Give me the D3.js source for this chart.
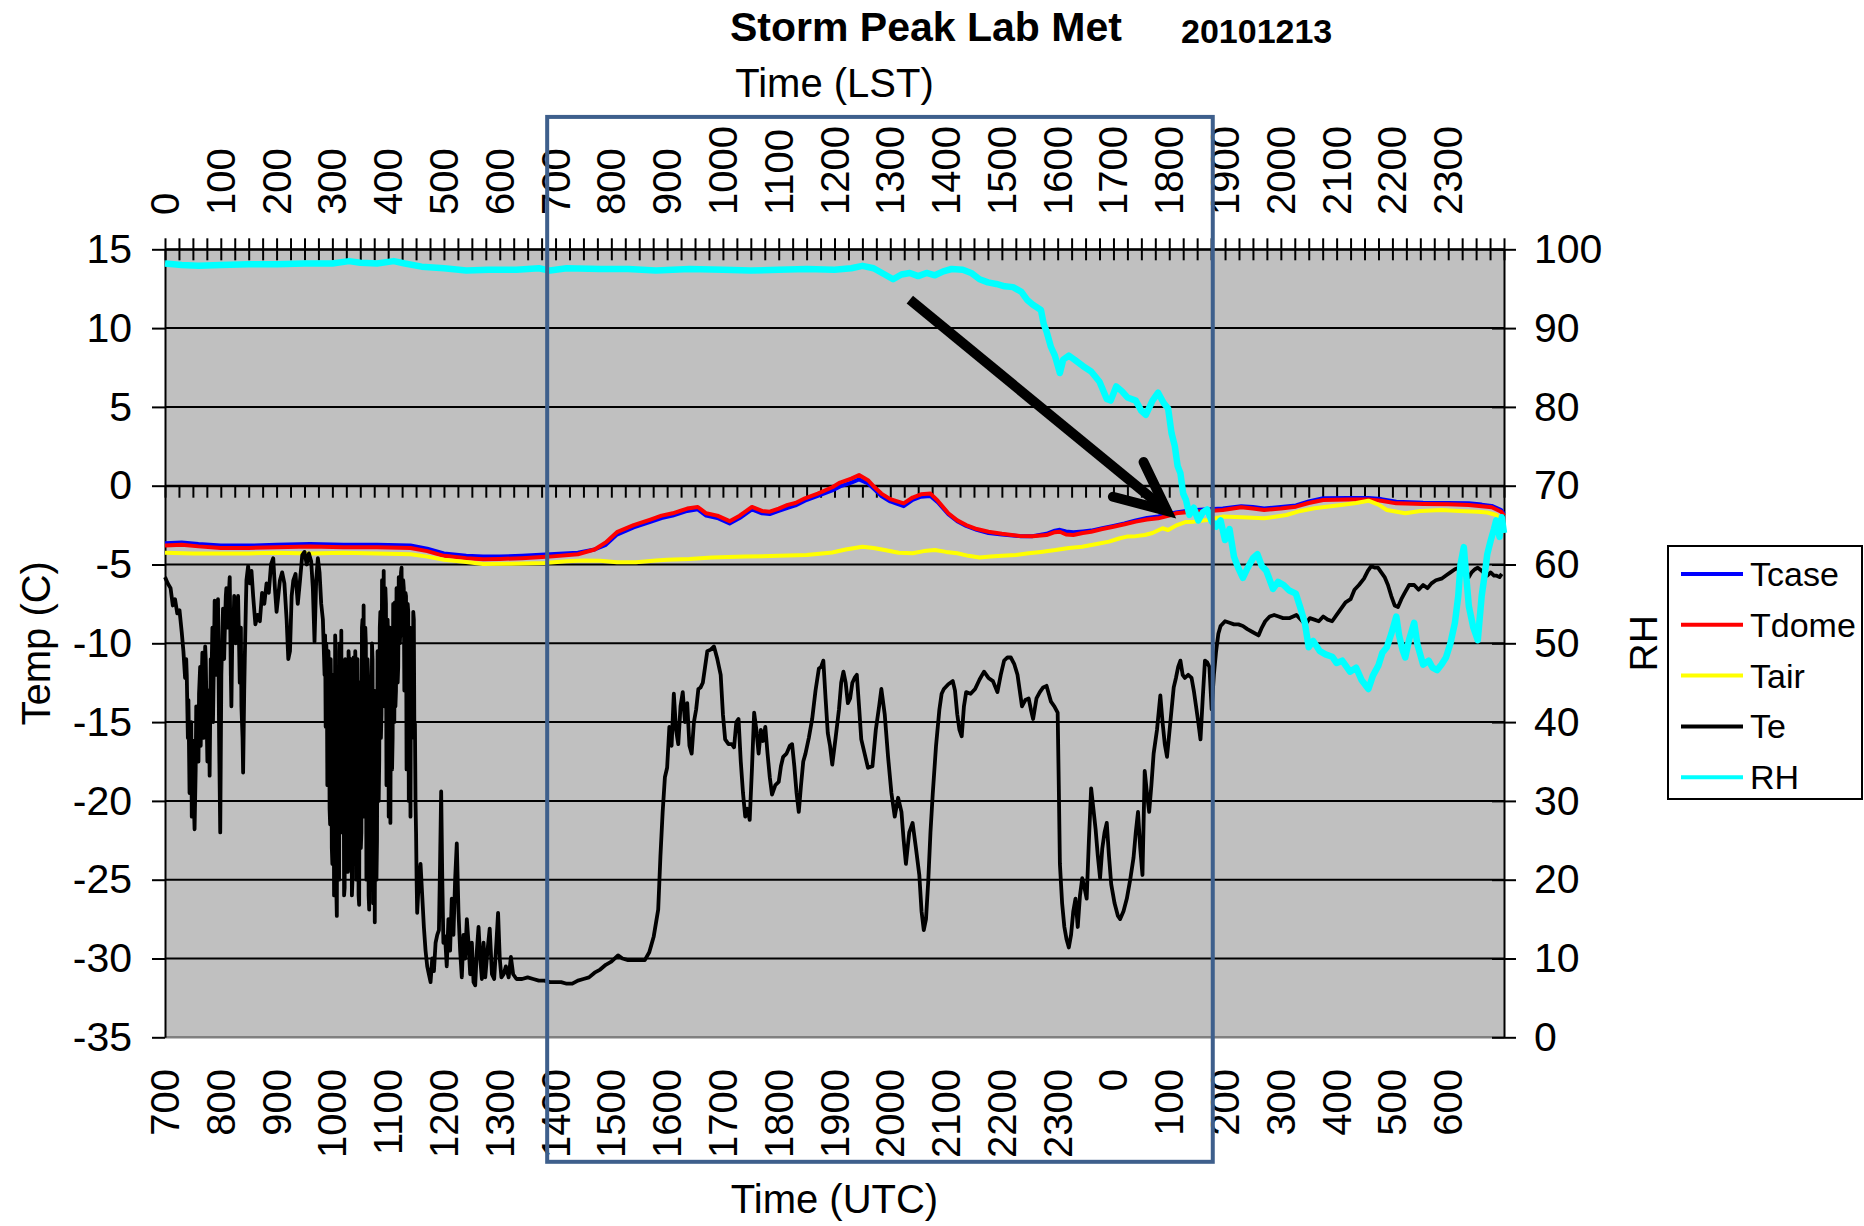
<!DOCTYPE html>
<html>
<head>
<meta charset="utf-8">
<script src="https://cdn.jsdelivr.net/npm/d3@7"></script>
<style>
  body { margin: 0; background: #fff; }
  text { font-family: "Liberation Sans", Arial, sans-serif; fill: #000; }
</style>
</head>
<body>
<svg id="chart" width="1864" height="1226"></svg>
<script>
// DATA (hours LST, value)

const lstLabels = ["0","100","200","300","400","500","600","700","800","900","1000","1100",
  "1200","1300","1400","1500","1600","1700","1800","1900","2000","2100","2200","2300"];
const utcLabels = ["700","800","900","1000","1100","1200","1300","1400","1500","1600","1700","1800",
  "1900","2000","2100","2200","2300","0","100","200","300","400","500","600"];
const tempTicks = [-35,-30,-25,-20,-15,-10,-5,0,5,10,15];
const rhTicks = [0,10,20,30,40,50,60,70,80,90,100];

const seriesNames = ["Tcase","Tdome","Tair","Te","RH"];
const seriesColors = ["#0000ff","#ff0000","#ffff00","#000000","#00ffff"];

const tcase = [[0,-3.65],[0.3,-3.6],[0.6,-3.7],[1.0,-3.8],[1.5,-3.8],[2.0,-3.75],[2.6,-3.7],[3.2,-3.75],[3.8,-3.75],[4.4,-3.8],
  [4.7,-4.0],[5.0,-4.3],[5.4,-4.45],[5.7,-4.5],[6.0,-4.5],[6.4,-4.45],[6.9,-4.35],[7.4,-4.25],[7.7,-4.05],[7.9,-3.75],
  [8.1,-3.1],[8.4,-2.65],[8.7,-2.3],[8.9,-2.05],[9.1,-1.9],[9.36,-1.6],[9.55,-1.5],[9.7,-1.9],[9.9,-2.05],[10.12,-2.4],
  [10.3,-2.05],[10.52,-1.5],[10.7,-1.75],[10.84,-1.8],[11.0,-1.6],[11.16,-1.4],[11.3,-1.25],[11.47,-0.95],[11.7,-0.65],
  [11.96,-0.3],[12.1,-0.05],[12.3,0.2],[12.44,0.4],[12.6,0.15],[12.72,-0.25],[12.84,-0.65],[13.0,-1.0],[13.24,-1.3],
  [13.4,-0.9],[13.55,-0.7],[13.72,-0.65],[13.85,-1.05],[14.04,-1.8],[14.2,-2.25],[14.36,-2.55],[14.55,-2.8],[14.76,-3.0],
  [15.0,-3.1],[15.32,-3.2],[15.55,-3.2],[15.8,-3.05],[15.95,-2.85],[16.04,-2.8],[16.15,-2.9],[16.28,-2.95],[16.45,-2.9],
  [16.6,-2.85],[16.8,-2.7],[17.0,-2.55],[17.2,-2.4],[17.4,-2.2],[17.6,-2.05],[17.8,-1.95],[18.0,-1.8],[18.12,-1.7],
  [18.4,-1.55],[18.7,-1.5],[18.96,-1.45],[19.29,-1.3],[19.5,-1.35],[19.7,-1.45],[20.0,-1.35],[20.27,-1.25],[20.5,-1.0],
  [20.76,-0.8],[21.2,-0.78],[21.57,-0.78],[21.8,-0.85],[22.07,-1.02],[22.55,-1.08],[23.0,-1.1],[23.37,-1.12],[23.6,-1.2],
  [23.78,-1.28],[23.95,-1.55],[24.0,-1.8]];

const tdome = [[0,-3.8],[0.3,-3.75],[0.6,-3.85],[1.0,-3.95],[1.5,-3.95],[2.0,-3.9],[2.6,-3.85],[3.2,-3.9],[3.8,-3.9],[4.4,-3.95],
  [4.7,-4.15],[5.0,-4.45],[5.4,-4.6],[5.7,-4.67],[6.0,-4.65],[6.4,-4.6],[6.9,-4.5],[7.4,-4.35],[7.7,-4.05],[7.9,-3.6],
  [8.1,-2.95],[8.4,-2.5],[8.7,-2.15],[8.9,-1.9],[9.1,-1.75],[9.36,-1.45],[9.55,-1.35],[9.7,-1.75],[9.9,-1.9],[10.12,-2.25],
  [10.3,-1.9],[10.52,-1.35],[10.7,-1.6],[10.84,-1.65],[11.0,-1.45],[11.16,-1.22],[11.3,-1.1],[11.47,-0.8],[11.7,-0.5],
  [11.96,-0.1],[12.1,0.2],[12.3,0.45],[12.44,0.68],[12.6,0.35],[12.72,-0.1],[12.84,-0.5],[13.0,-0.85],[13.24,-1.12],
  [13.4,-0.75],[13.55,-0.55],[13.72,-0.5],[13.85,-0.95],[14.04,-1.75],[14.2,-2.2],[14.36,-2.5],[14.55,-2.75],[14.76,-2.92],
  [15.0,-3.05],[15.32,-3.19],[15.55,-3.2],[15.8,-3.13],[15.95,-2.95],[16.04,-2.92],[16.15,-3.1],[16.28,-3.13],[16.45,-3.0],
  [16.6,-2.92],[16.8,-2.75],[17.0,-2.6],[17.2,-2.45],[17.4,-2.28],[17.6,-2.15],[17.8,-2.07],[18.0,-1.9],[18.12,-1.75],
  [18.4,-1.65],[18.7,-1.6],[18.96,-1.54],[19.29,-1.37],[19.5,-1.45],[19.7,-1.54],[20.0,-1.45],[20.27,-1.33],[20.5,-1.1],
  [20.76,-0.91],[21.2,-0.88],[21.57,-0.87],[21.8,-0.95],[22.07,-1.12],[22.55,-1.16],[23.0,-1.18],[23.37,-1.22],[23.6,-1.3],
  [23.78,-1.37],[23.95,-1.65],[24.0,-1.9]];

const tair = [[0,-4.25],[0.5,-4.3],[1.0,-4.3],[1.5,-4.3],[2.0,-4.25],[2.6,-4.3],[3.2,-4.25],[3.8,-4.3],[4.4,-4.35],[4.7,-4.5],
  [5.0,-4.7],[5.36,-4.82],[5.7,-4.97],[6.2,-4.95],[6.8,-4.9],[7.2,-4.8],[7.5,-4.75],[7.8,-4.76],[8.1,-4.85],[8.44,-4.86],
  [8.8,-4.75],[9.0,-4.7],[9.4,-4.65],[9.8,-4.55],[10.4,-4.5],[11.0,-4.45],[11.5,-4.4],[11.96,-4.24],[12.2,-4.05],[12.5,-3.87],
  [12.7,-3.95],[12.9,-4.08],[13.15,-4.25],[13.4,-4.29],[13.6,-4.15],[13.8,-4.08],[14.0,-4.2],[14.2,-4.29],[14.4,-4.45],
  [14.6,-4.55],[14.8,-4.5],[15.0,-4.45],[15.25,-4.4],[15.48,-4.29],[15.7,-4.2],[15.96,-4.08],[16.2,-3.95],[16.44,-3.87],
  [16.7,-3.7],[16.92,-3.55],[17.1,-3.35],[17.24,-3.23],[17.4,-3.2],[17.56,-3.13],[17.7,-3.0],[17.88,-2.7],[17.98,-2.81],
  [18.14,-2.5],[18.3,-2.3],[18.44,-2.28],[18.68,-2.18],[18.96,-1.96],[19.3,-2.0],[19.7,-2.07],[20.1,-1.86],[20.35,-1.6],
  [20.6,-1.43],[21.08,-1.22],[21.35,-1.1],[21.57,-0.95],[21.75,-1.2],[21.9,-1.54],[22.23,-1.75],[22.5,-1.6],[22.88,-1.54],
  [23.2,-1.6],[23.53,-1.65],[23.7,-1.7],[23.86,-1.86],[24.0,-2.3]];

const te = [[0.00,-5.8],[0.05,-6.2],[0.10,-6.5],[0.14,-7.6],[0.18,-7.2],[0.22,-8.1],[0.26,-7.9],[0.30,-9.3],[0.33,-10.5],
  [0.36,-12.2],[0.38,-11.0],[0.39,-12.0],[0.41,-16.0],[0.42,-13.6],[0.44,-19.5],[0.45,-17.5],[0.47,-15.0],[0.48,-21.0],
  [0.49,-19.8],[0.51,-16.2],[0.52,-20.5],[0.53,-21.8],[0.55,-18.0],[0.56,-14.0],[0.58,-15.2],[0.60,-17.5],[0.61,-13.2],
  [0.63,-11.5],[0.64,-16.5],[0.66,-12.0],[0.67,-10.6],[0.69,-16.0],[0.70,-14.5],[0.72,-10.2],[0.73,-11.0],[0.75,-15.5],
  [0.76,-17.5],[0.78,-13.0],[0.79,-14.5],[0.80,-18.4],[0.82,-11.0],[0.83,-12.5],[0.85,-9.0],[0.86,-15.0],[0.88,-10.0],
  [0.89,-7.3],[0.91,-12.0],[0.92,-8.5],[0.94,-10.5],[0.95,-7.2],[0.97,-16.0],[0.99,-22.0],[1.01,-12.0],[1.03,-9.0],
  [1.04,-7.8],[1.06,-11.0],[1.07,-9.5],[1.09,-7.0],[1.10,-6.5],[1.12,-9.0],[1.13,-8.0],[1.15,-6.5],[1.16,-5.8],
  [1.18,-12.0],[1.19,-14.0],[1.21,-8.5],[1.22,-10.0],[1.24,-7.0],[1.25,-7.8],[1.27,-10.0],[1.28,-9.0],[1.30,-8.0],
  [1.31,-7.0],[1.33,-10.5],[1.34,-12.5],[1.36,-9.0],[1.37,-14.0],[1.39,-16.0],[1.40,-18.2],[1.42,-13.0],[1.43,-11.0],
  [1.45,-7.5],[1.46,-6.0],[1.49,-5.1],[1.52,-6.2],[1.55,-5.4],[1.58,-7.0],[1.62,-8.8],[1.66,-8.2],[1.70,-8.6],[1.74,-6.8],
  [1.78,-7.5],[1.82,-6.2],[1.86,-6.8],[1.90,-5.0],[1.94,-4.6],[1.97,-6.5],[2.00,-8.0],[2.03,-7.0],[2.06,-6.0],[2.10,-5.5],
  [2.14,-6.2],[2.18,-8.5],[2.21,-11.0],[2.24,-10.5],[2.27,-7.0],[2.30,-6.0],[2.34,-5.6],[2.38,-7.5],[2.42,-6.0],[2.46,-4.4],
  [2.50,-4.2],[2.54,-5.0],[2.58,-4.3],[2.62,-4.8],[2.65,-6.5],[2.68,-9.9],[2.71,-6.0],[2.74,-4.6],[2.77,-5.5],[2.80,-7.5],
  [2.83,-8.5],[2.86,-12.0],[2.87,-9.5],[2.88,-15.3],[2.89,-10.0],[2.90,-11.0],[2.91,-19.0],[2.92,-18.0],[2.93,-10.5],
  [2.94,-12.5],[2.95,-20.5],[2.96,-21.5],[2.97,-11.0],[2.98,-14.0],[2.99,-23.0],[3.00,-24.0],[3.01,-12.0],[3.02,-13.0],
  [3.03,-26.0],[3.04,-22.0],[3.05,-9.5],[3.06,-10.5],[3.07,-25.5],[3.08,-27.3],[3.09,-13.0],[3.10,-15.0],[3.11,-24.0],
  [3.12,-25.0],[3.13,-10.0],[3.14,-11.5],[3.15,-20.0],[3.16,-9.2],[3.17,-21.0],[3.18,-22.0],[3.19,-12.0],[3.20,-13.5],
  [3.21,-26.0],[3.22,-25.5],[3.23,-11.0],[3.24,-12.0],[3.25,-24.0],[3.26,-23.0],[3.27,-13.0],[3.28,-24.5],[3.29,-10.5],
  [3.30,-11.5],[3.31,-22.5],[3.32,-21.0],[3.33,-11.0],[3.34,-14.0],[3.35,-26.0],[3.36,-25.0],[3.37,-12.0],[3.38,-10.9],
  [3.39,-23.0],[3.40,-19.0],[3.41,-10.5],[3.42,-12.0],[3.43,-25.0],[3.44,-24.5],[3.45,-11.0],[3.46,-15.0],[3.47,-26.0],
  [3.48,-26.6],[3.49,-12.5],[3.50,-13.0],[3.51,-23.0],[3.52,-22.0],[3.53,-9.0],[3.54,-8.5],[3.55,-18.0],[3.56,-7.6],
  [3.57,-21.0],[3.58,-20.0],[3.59,-9.0],[3.60,-10.0],[3.61,-25.0],[3.62,-24.0],[3.63,-11.0],[3.64,-12.0],[3.65,-26.0],
  [3.66,-26.9],[3.67,-12.5],[3.68,-14.5],[3.69,-24.5],[3.70,-23.0],[3.71,-10.0],[3.72,-11.0],[3.73,-26.5],[3.74,-25.5],
  [3.75,-13.0],[3.76,-27.7],[3.77,-14.0],[3.78,-16.0],[3.79,-25.0],[3.80,-22.5],[3.81,-10.5],[3.82,-12.0],[3.83,-20.0],
  [3.84,-17.4],[3.85,-9.0],[3.86,-8.0],[3.87,-16.0],[3.88,-14.5],[3.89,-6.0],[3.90,-6.5],[3.91,-13.0],[3.92,-5.4],
  [3.93,-14.0],[3.94,-12.0],[3.95,-6.5],[3.96,-7.5],[3.97,-19.0],[3.98,-18.0],[3.99,-8.5],[4.00,-10.0],[4.01,-21.0],
  [4.02,-20.5],[4.03,-9.0],[4.04,-21.4],[4.05,-11.0],[4.06,-12.0],[4.07,-18.0],[4.08,-16.0],[4.09,-7.5],[4.10,-8.0],
  [4.11,-15.0],[4.12,-7.4],[4.13,-14.0],[4.14,-13.0],[4.15,-6.5],[4.16,-7.0],[4.17,-12.5],[4.18,-11.5],[4.19,-5.8],
  [4.20,-6.0],[4.21,-10.0],[4.22,-9.0],[4.23,-5.5],[4.24,-5.2],[4.25,-9.5],[4.26,-8.5],[4.27,-6.0],[4.28,-6.5],
  [4.29,-13.0],[4.30,-12.0],[4.31,-6.8],[4.32,-7.0],[4.33,-18.0],[4.34,-17.0],[4.35,-7.5],[4.36,-8.0],[4.37,-20.0],
  [4.38,-19.0],[4.39,-9.0],[4.40,-21.0],[4.41,-9.5],[4.42,-10.0],[4.43,-16.0],[4.44,-15.0],[4.45,-8.0],[4.46,-8.5],
  [4.47,-16.0],[4.48,-15.1],[4.49,-20.0],[4.50,-22.0],[4.51,-25.0],[4.52,-27.1],[4.55,-25.0],
  [4.58,-24.0],[4.61,-26.0],[4.64,-28.0],[4.67,-29.5],[4.70,-30.5],[4.73,-31.0],[4.76,-31.5],[4.79,-30.0],[4.82,-30.8],
  [4.85,-29.0],[4.88,-28.5],[4.91,-28.2],[4.93,-24.0],[4.95,-19.4],[4.97,-25.0],[4.99,-29.0],[5.02,-28.6],[5.05,-30.5],
  [5.08,-27.5],[5.11,-29.5],[5.14,-26.2],[5.17,-28.5],[5.20,-25.0],[5.23,-22.7],[5.26,-27.0],[5.29,-29.5],[5.32,-31.2],
  [5.35,-28.5],[5.38,-30.0],[5.41,-27.5],[5.44,-29.0],[5.47,-31.0],[5.50,-29.0],[5.53,-31.5],[5.56,-31.7],[5.59,-29.5],
  [5.62,-28.0],[5.65,-30.0],[5.68,-31.3],[5.71,-29.0],[5.74,-31.2],[5.78,-29.5],[5.82,-28.1],[5.86,-31.0],[5.90,-31.3],
  [5.94,-29.0],[5.97,-27.1],[6.00,-30.0],[6.03,-31.2],[6.07,-31.0],[6.11,-30.5],[6.16,-31.2],[6.20,-29.9],[6.24,-31.0],
  [6.30,-31.3],[6.40,-31.3],[6.50,-31.2],[6.60,-31.3],[6.70,-31.4],[6.80,-31.4],[6.90,-31.5],[7.00,-31.5],[7.10,-31.5],
  [7.20,-31.6],[7.30,-31.6],[7.40,-31.4],[7.50,-31.3],[7.60,-31.2],[7.70,-30.9],[7.80,-30.7],[7.90,-30.4],[8.00,-30.2],
  [8.12,-29.8],[8.20,-30.0],[8.30,-30.1],[8.45,-30.1],[8.60,-30.1],[8.68,-29.6],[8.76,-28.6],[8.84,-26.9],[8.88,-23.5],
  [8.92,-20.7],[8.96,-18.5],[9.00,-17.9],[9.04,-15.3],[9.08,-16.5],[9.12,-13.2],[9.16,-15.5],[9.20,-16.4],[9.24,-14.0],
  [9.28,-13.1],[9.32,-15.0],[9.36,-13.8],[9.40,-16.5],[9.44,-17.0],[9.48,-15.0],[9.52,-14.2],[9.56,-12.9],[9.60,-12.8],
  [9.64,-12.5],[9.68,-11.5],[9.72,-10.5],[9.78,-10.4],[9.84,-10.2],[9.90,-11.0],[9.96,-12.0],[10.00,-14.5],[10.04,-16.1],
  [10.10,-16.4],[10.16,-16.4],[10.20,-16.6],[10.24,-15.0],[10.28,-14.8],[10.32,-17.5],[10.36,-19.5],[10.40,-21.0],
  [10.44,-20.5],[10.48,-21.2],[10.52,-18.0],[10.56,-14.4],[10.60,-15.5],[10.64,-17.0],[10.68,-15.5],[10.72,-16.2],
  [10.76,-15.3],[10.80,-17.0],[10.84,-18.5],[10.88,-19.6],[10.94,-19.0],[11.00,-18.8],[11.04,-17.8],[11.08,-17.2],
  [11.14,-17.0],[11.20,-16.5],[11.24,-16.4],[11.28,-17.8],[11.32,-19.5],[11.36,-20.7],[11.40,-19.0],[11.44,-17.5],
  [11.48,-17.0],[11.54,-16.0],[11.60,-14.8],[11.66,-13.0],[11.72,-11.6],[11.76,-11.5],[11.80,-11.1],[11.84,-13.5],
  [11.88,-15.7],[11.92,-16.5],[11.96,-17.7],[12.02,-16.0],[12.08,-14.2],[12.12,-12.5],[12.16,-11.8],[12.20,-12.5],
  [12.24,-13.8],[12.28,-13.5],[12.32,-12.5],[12.36,-12.2],[12.40,-12.0],[12.44,-14.0],[12.48,-16.1],[12.54,-17.0],
  [12.60,-17.9],[12.68,-17.8],[12.74,-15.5],[12.80,-14.0],[12.84,-12.9],[12.90,-14.5],[12.96,-17.2],[13.02,-19.5],
  [13.08,-21.0],[13.14,-19.8],[13.20,-20.7],[13.24,-22.5],[13.28,-24.0],[13.34,-22.0],[13.40,-21.4],[13.46,-23.0],
  [13.52,-24.7],[13.56,-27.0],[13.60,-28.2],[13.64,-27.5],[13.68,-25.1],[13.72,-22.0],[13.76,-19.6],[13.82,-16.5],
  [13.88,-14.2],[13.92,-13.2],[13.96,-12.9],[14.04,-12.6],[14.12,-12.4],[14.16,-13.0],[14.20,-14.5],[14.24,-15.5],
  [14.28,-15.9],[14.32,-14.0],[14.36,-13.1],[14.44,-13.2],[14.52,-12.9],[14.60,-12.3],[14.68,-11.8],[14.76,-12.2],
  [14.84,-12.4],[14.92,-13.1],[14.98,-12.0],[15.04,-11.1],[15.10,-10.9],[15.16,-10.9],[15.22,-11.3],[15.28,-12.0],
  [15.32,-13.0],[15.36,-14.0],[15.42,-13.6],[15.48,-13.5],[15.52,-14.2],[15.56,-14.8],[15.62,-13.5],[15.68,-13.1],
  [15.74,-12.8],[15.80,-12.7],[15.84,-13.2],[15.88,-13.7],[15.94,-14.0],[16.00,-14.4],[16.02,-19.0],[16.04,-24.0],
  [16.08,-26.5],[16.12,-28.0],[16.16,-28.8],[16.20,-29.3],[16.24,-28.5],[16.28,-27.0],[16.32,-26.2],[16.36,-28.0],
  [16.40,-26.0],[16.44,-24.9],[16.48,-25.5],[16.52,-26.2],[16.56,-22.5],[16.60,-19.2],[16.64,-20.5],[16.68,-21.8],
  [16.72,-23.5],[16.76,-24.9],[16.80,-23.0],[16.84,-22.0],[16.88,-21.4],[16.92,-23.5],[16.96,-25.3],[17.02,-26.5],
  [17.08,-27.3],[17.12,-27.5],[17.18,-27.0],[17.24,-26.2],[17.30,-25.0],[17.36,-23.6],[17.40,-22.0],[17.44,-20.7],
  [17.48,-23.0],[17.52,-24.7],[17.56,-18.1],[17.60,-19.5],[17.64,-20.7],[17.68,-19.0],[17.72,-17.0],[17.78,-15.5],
  [17.84,-13.3],[17.88,-15.0],[17.92,-16.4],[17.96,-17.2],[18.02,-15.0],[18.08,-12.8],[18.12,-12.2],[18.16,-11.5],
  [18.20,-11.1],[18.24,-12.0],[18.28,-12.2],[18.34,-12.0],[18.40,-12.2],[18.44,-13.0],[18.48,-14.0],[18.52,-15.0],
  [18.56,-16.1],[18.60,-13.5],[18.64,-11.1],[18.68,-11.2],[18.72,-11.5],[18.76,-14.2],[18.80,-12.0],[18.84,-10.5],
  [18.88,-9.4],[18.92,-8.9],[19.00,-8.6],[19.08,-8.7],[19.16,-8.8],[19.24,-8.8],[19.32,-8.9],[19.40,-9.1],[19.50,-9.3],
  [19.60,-9.5],[19.66,-9.0],[19.72,-8.6],[19.80,-8.3],[19.88,-8.2],[19.96,-8.3],[20.04,-8.4],[20.16,-8.4],[20.28,-8.2],
  [20.36,-8.5],[20.44,-8.8],[20.52,-8.4],[20.60,-8.5],[20.68,-8.6],[20.76,-8.3],[20.84,-8.5],[20.92,-8.6],[21.00,-8.2],
  [21.08,-7.8],[21.16,-7.4],[21.25,-7.2],[21.32,-6.6],[21.40,-6.3],[21.49,-5.9],[21.56,-5.4],[21.62,-5.1],[21.68,-5.2],
  [21.74,-5.2],[21.80,-5.5],[21.86,-5.8],[21.92,-6.3],[21.98,-7.0],[22.04,-7.6],[22.10,-7.7],[22.16,-7.2],[22.22,-6.8],
  [22.30,-6.3],[22.39,-6.3],[22.47,-6.6],[22.55,-6.3],[22.63,-6.5],[22.70,-6.2],[22.78,-6.0],[22.88,-5.9],[22.96,-5.7],
  [23.04,-5.5],[23.12,-5.3],[23.20,-5.2],[23.26,-5.0],[23.30,-5.1],[23.34,-5.6],[23.37,-5.8],[23.42,-5.5],[23.48,-5.3],
  [23.53,-5.2],[23.60,-5.4],[23.66,-5.6],[23.70,-5.7],[23.76,-5.5],[23.82,-5.7],[23.86,-5.7],[23.92,-5.8],[23.96,-5.6]];

const rh = [[0,98.2],[0.3,98.0],[0.6,97.9],[1.0,98.0],[1.5,98.1],[2.0,98.1],[2.5,98.2],[3.0,98.2],[3.3,98.5],[3.5,98.3],
  [3.8,98.2],[4.1,98.5],[4.3,98.2],[4.6,97.8],[5.0,97.6],[5.4,97.3],[5.8,97.4],[6.3,97.4],[6.7,97.6],[6.9,97.3],[7.2,97.6],
  [7.8,97.5],[8.3,97.5],[8.8,97.3],[9.4,97.5],[10.0,97.4],[10.5,97.3],[11.0,97.4],[11.5,97.5],[12.0,97.4],[12.3,97.6],
  [12.5,97.9],[12.7,97.6],[12.9,96.8],[13.05,96.2],[13.2,96.8],[13.35,97.0],[13.5,96.6],[13.65,97.0],[13.8,96.7],
  [13.95,97.2],[14.1,97.5],[14.3,97.4],[14.45,97.0],[14.6,96.2],[14.75,95.8],[14.9,95.6],[15.05,95.3],[15.2,95.2],
  [15.35,94.6],[15.45,93.6],[15.55,93.0],[15.7,92.3],[15.75,90.5],[15.8,89.6],[15.88,87.6],[15.95,86.5],[16.04,84.3],
  [16.1,86.0],[16.2,86.5],[16.3,86.0],[16.45,85.2],[16.6,84.5],[16.75,83.2],[16.88,81.0],[16.95,80.8],[17.05,82.6],
  [17.15,82.0],[17.25,81.2],[17.4,80.8],[17.5,79.5],[17.58,79.0],[17.7,80.8],[17.8,81.8],[17.9,80.5],[17.98,79.8],
  [18.04,76.7],[18.1,75.0],[18.15,72.5],[18.2,71.6],[18.25,69.0],[18.3,68.2],[18.36,66.3],[18.44,67.2],[18.52,65.6],
  [18.6,66.6],[18.68,67.0],[18.76,65.5],[18.84,64.8],[18.92,65.6],[19.0,63.1],[19.08,64.5],[19.16,61.0],[19.24,59.5],
  [19.32,58.3],[19.4,59.5],[19.5,60.8],[19.58,61.3],[19.66,59.8],[19.74,59.2],[19.86,56.9],[19.95,57.8],[20.05,57.4],
  [20.15,56.7],[20.27,56.3],[20.35,54.5],[20.43,52.6],[20.5,49.5],[20.58,50.3],[20.7,49.0],[20.8,48.6],[20.92,48.3],
  [21.0,47.5],[21.1,47.8],[21.24,46.4],[21.35,46.9],[21.45,45.3],[21.57,44.2],[21.65,45.9],[21.75,47.2],[21.82,48.8],
  [21.9,49.5],[21.98,51.2],[22.07,53.4],[22.12,51.0],[22.18,49.2],[22.23,48.2],[22.3,50.5],[22.39,52.6],[22.45,49.8],
  [22.55,47.3],[22.65,47.8],[22.72,46.9],[22.8,46.6],[22.88,47.3],[22.96,48.2],[23.04,50.0],[23.12,52.6],[23.18,56.0],
  [23.22,60.0],[23.28,62.2],[23.33,58.0],[23.37,54.7],[23.45,52.0],[23.53,50.4],[23.6,56.0],[23.66,59.0],[23.7,61.3],
  [23.76,63.0],[23.82,64.5],[23.86,65.6],[23.92,63.5],[23.96,66.0],[24.0,64.0]];

// annotation shapes, in data units (hours, temp C)
const boxCorners = [[6.85, 23.4], [18.78, -42.9]];
const arrowShaft = [[13.35, 11.8], [17.96, -1.6]];
const arrowHead = [[17.54, 1.5], [17.96, -1.6], [16.99, -0.7]];

// CONSTANTS
const width = 1864, height = 1226;
const margin = { top: 249.3, bottom: 188.7, left: 165, right: 360 };
const fontFamily = '"Liberation Sans", Arial, sans-serif';

const svg = d3.select("#chart");

const x = d3.scaleLinear().domain([0, 24]).range([margin.left, width - margin.right]);
const yT = d3.scaleLinear().domain([-35, 15]).range([height - margin.bottom, margin.top]);
const yRH = d3.scaleLinear().domain([0, 100]).range([height - margin.bottom, margin.top]);

// plot area
svg.append("rect")
  .attr("x", x(0))
  .attr("y", yT(15))
  .attr("width", x(24) - x(0))
  .attr("height", yT(-35) - yT(15))
  .attr("fill", "#c0c0c0");

// gridlines
svg.append("g").attr("class", "grid")
  .selectAll("line").data(tempTicks.filter(d => d > -35))
  .enter().append("line")
    .attr("x1", x(0)).attr("x2", x(24))
    .attr("y1", d => yT(d)).attr("y2", d => yT(d))
    .attr("stroke", "#000").attr("stroke-width", 2);

svg.append("line")
  .attr("x1", x(0)).attr("x2", x(24))
  .attr("y1", yT(-35)).attr("y2", yT(-35))
  .attr("stroke", "#808080").attr("stroke-width", 2.5);

function styleAxis(g, size) {
  g.attr("font-family", fontFamily).attr("font-size", size);
  g.select(".domain").attr("stroke", "#000").attr("stroke-width", 2);
  g.selectAll(".tick line").attr("stroke", "#000").attr("stroke-width", 2);
  g.selectAll(".tick text").attr("fill", "#000");
}

// left (temp) axis
let yAxisG = svg.append("g")
  .attr("class", "y-axis")
  .attr("transform", `translate(${x(0)}, 0)`)
  .call(d3.axisLeft(yT).tickValues(tempTicks).tickSize(13).tickSizeOuter(0)
    .tickPadding(20).tickFormat(d => String(d)));
styleAxis(yAxisG, 41);

// right (RH) axis, ticks cross the axis line
let rhAxisG = svg.append("g")
  .attr("class", "rh-axis")
  .attr("transform", `translate(${x(24)}, 0)`)
  .call(d3.axisRight(yRH).tickValues(rhTicks).tickSize(12).tickSizeOuter(0)
    .tickPadding(18).tickFormat(d => String(d)));
rhAxisG.selectAll(".tick line").attr("x1", -12);
styleAxis(rhAxisG, 41);

// tick every 15 minutes
const quarterHours = d3.range(0, 97).map(i => i / 4);

let topAxisG = svg.append("g")
  .attr("class", "x-axis-top")
  .attr("transform", `translate(0, ${yT(15)})`)
  .call(d3.axisTop(x).tickValues(quarterHours).tickSize(11).tickSizeOuter(0).tickFormat(""));
topAxisG.selectAll(".tick line").attr("y1", 11);
styleAxis(topAxisG, 40);

// UTC axis crosses at 0 C
let bottomAxisG = svg.append("g")
  .attr("class", "x-axis-bottom")
  .attr("transform", `translate(0, ${yT(0)})`)
  .call(d3.axisBottom(x).tickValues(quarterHours).tickSize(12).tickSizeOuter(0).tickFormat(""));
styleAxis(bottomAxisG, 40);

// rotated hour labels
svg.append("g").attr("class", "lst-labels")
  .selectAll("text").data(lstLabels)
  .enter().append("text")
    .attr("transform", (d, i) => `translate(${x(i)}, 215) rotate(-90)`)
    .attr("dy", "0.35em")
    .attr("text-anchor", "start")
    .attr("font-size", 40)
    .text(d => d);

svg.append("g").attr("class", "utc-labels")
  .selectAll("text").data(utcLabels)
  .enter().append("text")
    .attr("transform", (d, i) => `translate(${x(i)}, 1069) rotate(-90)`)
    .attr("dy", "0.35em")
    .attr("text-anchor", "end")
    .attr("font-size", 40)
    .text(d => d);

// series
const lineT = d3.line().x(d => x(d[0])).y(d => yT(d[1]));
const lineRH = d3.line().x(d => x(d[0])).y(d => yRH(d[1]));

const seriesData = [tcase, tdome, tair, te, rh];
const seriesWidths = [4, 4, 4, 3.8, 6.5];

svg.append("g").attr("class", "series")
  .selectAll("path").data(seriesData)
  .enter().append("path")
    .attr("d", (d, i) => seriesNames[i] === "RH" ? lineRH(d) : lineT(d))
    .attr("fill", "none")
    .attr("stroke", (d, i) => seriesColors[i])
    .attr("stroke-width", (d, i) => seriesWidths[i])
    .attr("stroke-linejoin", "round");

// titles
svg.append("text")
  .attr("x", 730).attr("y", 41)
  .attr("font-size", 41).attr("font-weight", "bold")
  .text("Storm Peak Lab Met");
svg.append("text")
  .attr("x", 1181).attr("y", 43)
  .attr("font-size", 34).attr("font-weight", "bold")
  .text("20101213");
svg.append("text")
  .attr("x", (x(0) + x(24)) / 2).attr("y", 97)
  .attr("text-anchor", "middle").attr("font-size", 40)
  .text("Time (LST)");
svg.append("text")
  .attr("x", (x(0) + x(24)) / 2).attr("y", 1213)
  .attr("text-anchor", "middle").attr("font-size", 40)
  .text("Time (UTC)");
svg.append("text")
  .attr("transform", `translate(36, ${yT(-10)}) rotate(-90)`)
  .attr("dy", "0.35em").attr("text-anchor", "middle").attr("font-size", 40)
  .text("Temp (C)");
svg.append("text")
  .attr("transform", `translate(1643, ${yT(-10)}) rotate(-90)`)
  .attr("dy", "0.35em").attr("text-anchor", "middle").attr("font-size", 39)
  .text("RH");

// legend
let legend = svg.append("g").attr("class", "legend").attr("transform", "translate(1668, 546)");
legend.append("rect")
  .attr("width", 194).attr("height", 253)
  .attr("fill", "#fff").attr("stroke", "#000").attr("stroke-width", 2);
let items = legend.selectAll(".item").data(seriesNames)
  .enter().append("g")
    .attr("class", "item")
    .attr("transform", (d, i) => `translate(0, ${28 + i * 50.8})`);
items.append("line")
  .attr("x1", 13).attr("x2", 75)
  .attr("stroke", (d, i) => seriesColors[i])
  .attr("stroke-width", 4);
items.append("text")
  .attr("x", 82).attr("dy", "0.35em")
  .attr("font-size", 34)
  .text(d => d);

// annotations: highlight box and arrow
svg.append("rect")
  .attr("x", x(boxCorners[0][0]))
  .attr("y", yT(boxCorners[0][1]))
  .attr("width", x(boxCorners[1][0]) - x(boxCorners[0][0]))
  .attr("height", yT(boxCorners[1][1]) - yT(boxCorners[0][1]))
  .attr("fill", "none")
  .attr("stroke", "#3e5f8c")
  .attr("stroke-width", 4);

svg.append("path")
  .attr("d", lineT(arrowShaft))
  .attr("fill", "none").attr("stroke", "#000").attr("stroke-width", 10);
svg.append("path")
  .attr("d", lineT(arrowHead))
  .attr("fill", "none").attr("stroke", "#000").attr("stroke-width", 10)
  .attr("stroke-linecap", "round").attr("stroke-linejoin", "miter");
</script>
</body>
</html>
